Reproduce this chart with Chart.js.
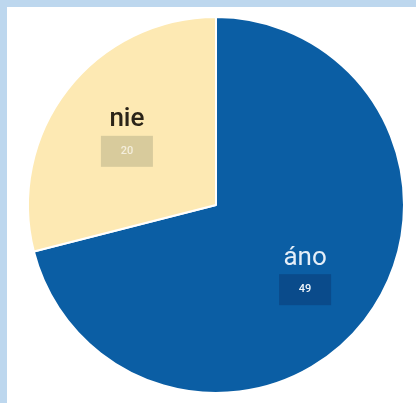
<!DOCTYPE html>
<html>
<head>
<meta charset="utf-8">
<script src="https://cdn.jsdelivr.net/npm/chart.js@4.4.0/dist/chart.umd.min.js"></script>
<style>
  html, body { margin: 0; padding: 0; background: #fff; }
  #frame {
    width: 409px; height: 396px;
    border-top: 7px solid #bdd7ee;
    border-left: 7px solid #bdd7ee;
    background: #fff;
  }
  #wrap { position: relative; width: 409px; height: 396px; }
</style>
</head>
<body>
<div id="frame"><div id="wrap"><canvas id="pie"></canvas></div></div>
<script>
// answers and counts
const labels = ['áno', 'nie'];
const values = [49, 20];
const sliceColors = ['#0b5ea4', '#fde9b3'];
const labelColors = ['#e4eef8', '#2b2418'];
const labelWeights = ['400', '500'];
const boxColors = ['#0a4b8b', '#d8cb9c'];
const boxTextColors = ['#f2f6fb', '#f4eedc'];

// draws the name and a little box with the count inside each slice
const sliceLabels = {
  id: 'sliceLabels',
  afterDatasetsDraw(chart) {
    const ctx = chart.ctx;
    const meta = chart.getDatasetMeta(0);
    meta.data.forEach((arc, i) => {
      const mid = (arc.startAngle + arc.endAngle) / 2;
      const r = arc.outerRadius * 0.6;
      const x = arc.x + Math.cos(mid) * r;
      const y = arc.y + Math.sin(mid) * r;

      ctx.save();
      ctx.textAlign = 'center';
      ctx.textBaseline = 'middle';
      ctx.font = labelWeights[i] + ' 26px Roboto, "Noto Sans", sans-serif';
      ctx.fillStyle = labelColors[i];
      ctx.fillText(labels[i], x, y - 16);

      const bw = 52, bh = 31;
      ctx.fillStyle = boxColors[i];
      ctx.fillRect(x - bw / 2, y, bw, bh);
      ctx.font = '500 11px Roboto, "Noto Sans", sans-serif';
      ctx.fillStyle = boxTextColors[i];
      ctx.fillText(String(values[i]), x, y + bh / 2);
      ctx.restore();
    });
  }
};

const ctx = document.getElementById('pie');

new Chart(ctx, {
  type: 'pie',
  data: {
    labels: labels,
    datasets: [{
      data: values,
      backgroundColor: sliceColors,
      borderColor: '#ffffff',
      borderWidth: 2,
    }],
  },
  options: {
    responsive: true,
    maintainAspectRatio: false,
    animation: false,
    layout: { padding: { left: 20, right: 11, top: 8, bottom: 8 } },
    plugins: {
      legend: { display: false },
      tooltip: { enabled: false },
    },
  },
  plugins: [sliceLabels],
});
</script>
</body>
</html>
